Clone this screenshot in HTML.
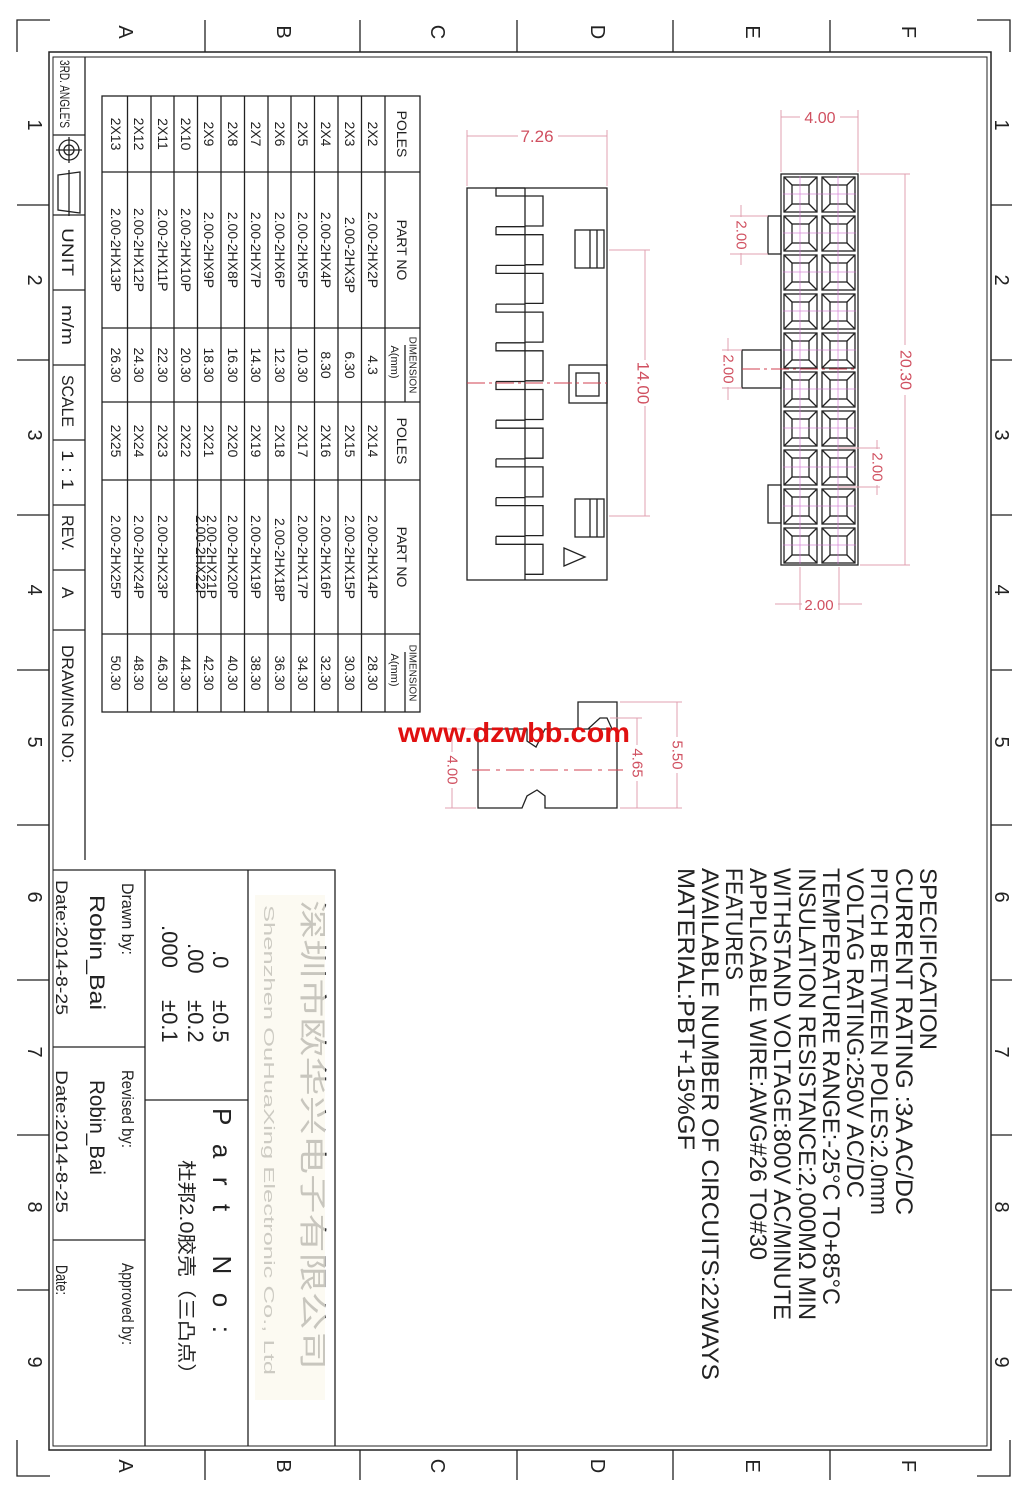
<!DOCTYPE html>
<html><head><meta charset="utf-8"><style>
html,body{margin:0;padding:0;background:#fff;}
svg{display:block;}
text{font-family:"Liberation Sans","Noto Sans CJK SC",sans-serif;fill:#222;}
.c{text-anchor:middle;dominant-baseline:central;}
.r{fill:#d05060;}
</style></head><body>
<svg width="1027" height="1499" viewBox="0 0 1027 1499" xmlns="http://www.w3.org/2000/svg">
<defs>
<g id="cell" stroke="#222" stroke-width="1.3" fill="none">
<rect x="0" y="0" width="33" height="35"/>
<rect x="8" y="8" width="17" height="19"/>
<path d="M0 0L8 8M33 0L25 8M0 35L8 27M33 35L25 27"/>
</g>
<g id="fin" stroke="#222" stroke-width="1.3" fill="none">
<path d="M496 0V8H543V38H525"/>
<path d="M496 0H525"/>
</g>
</defs>
<g stroke="#222" stroke-width="1.3" fill="none">
<path d="M17 52V20H50"/>
<path d="M1010 52V20H977"/>
<path d="M17 1440V1476H50"/>
<path d="M1010 1440V1476H977"/>
<rect x="49" y="52" width="942" height="1398" stroke-width="1.5"/>
<rect x="53" y="57" width="934" height="1389" stroke-width="1"/>
<path d="M205 20V52M360 20V52M517 20V52M673 20V52M830 20V52"/>
<path d="M205 1450V1480M360 1450V1480M517 1450V1480M673 1450V1480M830 1450V1480"/>
<path d="M17 205H49M17 360H49M17 515H49M17 670H49M17 825H49M17 980H49M17 1135H49M17 1290H49"/>
<path d="M991 205H1012M991 360H1012M991 515H1012M991 670H1012M991 825H1012M991 980H1012M991 1135H1012M991 1290H1012"/>
</g>
<g font-size="20">
<text class="c" transform="translate(125,32) rotate(90)">A</text>
<text class="c" transform="translate(283,32) rotate(90)">B</text>
<text class="c" transform="translate(437,32) rotate(90)">C</text>
<text class="c" transform="translate(597,32) rotate(90)">D</text>
<text class="c" transform="translate(752,32) rotate(90)">E</text>
<text class="c" transform="translate(908,32) rotate(90)">F</text>
<text class="c" transform="translate(125,1466) rotate(90)">A</text>
<text class="c" transform="translate(283,1466) rotate(90)">B</text>
<text class="c" transform="translate(437,1466) rotate(90)">C</text>
<text class="c" transform="translate(597,1466) rotate(90)">D</text>
<text class="c" transform="translate(752,1466) rotate(90)">E</text>
<text class="c" transform="translate(908,1466) rotate(90)">F</text>
<text class="c" transform="translate(34,125) rotate(90)">1</text>
<text class="c" transform="translate(34,280) rotate(90)">2</text>
<text class="c" transform="translate(34,435) rotate(90)">3</text>
<text class="c" transform="translate(34,590) rotate(90)">4</text>
<text class="c" transform="translate(34,742) rotate(90)">5</text>
<text class="c" transform="translate(34,897) rotate(90)">6</text>
<text class="c" transform="translate(34,1052) rotate(90)">7</text>
<text class="c" transform="translate(34,1207) rotate(90)">8</text>
<text class="c" transform="translate(34,1362) rotate(90)">9</text>
<text class="c" transform="translate(1001,125) rotate(90)">1</text>
<text class="c" transform="translate(1001,280) rotate(90)">2</text>
<text class="c" transform="translate(1001,435) rotate(90)">3</text>
<text class="c" transform="translate(1001,590) rotate(90)">4</text>
<text class="c" transform="translate(1001,742) rotate(90)">5</text>
<text class="c" transform="translate(1001,897) rotate(90)">6</text>
<text class="c" transform="translate(1001,1052) rotate(90)">7</text>
<text class="c" transform="translate(1001,1207) rotate(90)">8</text>
<text class="c" transform="translate(1001,1362) rotate(90)">9</text>
</g>
<g stroke="#222" stroke-width="1.3" fill="none">
<path d="M85 57V860"/>
<path d="M53 135H85M53 215H85M53 290H85M53 365H85M53 440H85M53 505H85M53 570H85M53 630H85"/>
<circle cx="69" cy="150" r="10"/><circle cx="69" cy="150" r="5"/>
<path d="M56 150H82M69 137V163"/>
<path d="M58 175L80 172V213L58 210Z M69 170V216"/>
</g>
<g font-size="14">
<text transform="translate(60,60) rotate(90)" textLength="68" lengthAdjust="spacingAndGlyphs">3RD. ANGLE'S</text>
<text transform="translate(62,228) rotate(90)" font-size="17" textLength="48" lengthAdjust="spacingAndGlyphs">UNIT</text>
<text transform="translate(62,305) rotate(90)" font-size="17" textLength="40" lengthAdjust="spacingAndGlyphs">m/m</text>
<text transform="translate(62,375) rotate(90)" font-size="17" textLength="52" lengthAdjust="spacingAndGlyphs">SCALE</text>
<text transform="translate(62,450) rotate(90)" font-size="17" textLength="40" lengthAdjust="spacingAndGlyphs">1 : 1</text>
<text transform="translate(62,515) rotate(90)" font-size="17" textLength="36" lengthAdjust="spacingAndGlyphs">REV.</text>
<text transform="translate(62,587) rotate(90)" font-size="17">A</text>
<text transform="translate(62,645) rotate(90)" font-size="17" textLength="118" lengthAdjust="spacingAndGlyphs">DRAWING NO:</text>
</g>
<g stroke="#222" stroke-width="1.3" fill="none">
<rect x="102" y="96" width="318" height="616"/>
<path d="M385 96V712M361.5 96V712M338 96V712M314.5 96V712M291 96V712M268 96V712M244.5 96V712M221 96V712M197.5 96V712M174 96V712M151 96V712M127.5 96V712"/>
<path d="M102 172H420M102 328H420M102 402H420M102 480H420M102 634H420"/>
<path d="M405 345V402M405 652V712"/>
</g>
<g font-size="14">
<text class="c" transform="translate(402,134) rotate(90)">POLES</text>
<text class="c" transform="translate(402,250) rotate(90)">PART NO</text>
<text class="c" transform="translate(412,365) rotate(90)" font-size="10">DIMENSION</text>
<text class="c" transform="translate(394,362) rotate(90)" font-size="11">A(mm)</text>
<text class="c" transform="translate(402,441) rotate(90)">POLES</text>
<text class="c" transform="translate(402,557) rotate(90)">PART NO</text>
<text class="c" transform="translate(412,673) rotate(90)" font-size="10">DIMENSION</text>
<text class="c" transform="translate(394,670) rotate(90)" font-size="11">A(mm)</text>

<text class="c" transform="translate(373,134) rotate(90)">2X2</text><text class="c" transform="translate(373,250) rotate(90)">2.00-2HX2P</text><text class="c" transform="translate(373,365) rotate(90)">4.3</text><text class="c" transform="translate(373,441) rotate(90)">2X14</text><text class="c" transform="translate(373,557) rotate(90)">2.00-2HX14P</text><text class="c" transform="translate(373,673) rotate(90)">28.30</text>
<text class="c" transform="translate(350,134) rotate(90)">2X3</text><text class="c" transform="translate(350,255) rotate(90)">2.00-2HX3P</text><text class="c" transform="translate(350,365) rotate(90)">6.30</text><text class="c" transform="translate(350,441) rotate(90)">2X15</text><text class="c" transform="translate(350,557) rotate(90)">2.00-2HX15P</text><text class="c" transform="translate(350,673) rotate(90)">30.30</text>
<text class="c" transform="translate(326,134) rotate(90)">2X4</text><text class="c" transform="translate(326,250) rotate(90)">2.00-2HX4P</text><text class="c" transform="translate(326,365) rotate(90)">8.30</text><text class="c" transform="translate(326,441) rotate(90)">2X16</text><text class="c" transform="translate(326,557) rotate(90)">2.00-2HX16P</text><text class="c" transform="translate(326,673) rotate(90)">32.30</text>
<text class="c" transform="translate(303,134) rotate(90)">2X5</text><text class="c" transform="translate(303,250) rotate(90)">2.00-2HX5P</text><text class="c" transform="translate(303,365) rotate(90)">10.30</text><text class="c" transform="translate(303,441) rotate(90)">2X17</text><text class="c" transform="translate(303,557) rotate(90)">2.00-2HX17P</text><text class="c" transform="translate(303,673) rotate(90)">34.30</text>
<text class="c" transform="translate(280,134) rotate(90)">2X6</text><text class="c" transform="translate(280,250) rotate(90)">2.00-2HX6P</text><text class="c" transform="translate(280,365) rotate(90)">12.30</text><text class="c" transform="translate(280,441) rotate(90)">2X18</text><text class="c" transform="translate(280,560) rotate(90)">2.00-2HX18P</text><text class="c" transform="translate(280,673) rotate(90)">36.30</text>
<text class="c" transform="translate(256,134) rotate(90)">2X7</text><text class="c" transform="translate(256,250) rotate(90)">2.00-2HX7P</text><text class="c" transform="translate(256,365) rotate(90)">14.30</text><text class="c" transform="translate(256,441) rotate(90)">2X19</text><text class="c" transform="translate(256,557) rotate(90)">2.00-2HX19P</text><text class="c" transform="translate(256,673) rotate(90)">38.30</text>
<text class="c" transform="translate(233,134) rotate(90)">2X8</text><text class="c" transform="translate(233,250) rotate(90)">2.00-2HX8P</text><text class="c" transform="translate(233,365) rotate(90)">16.30</text><text class="c" transform="translate(233,441) rotate(90)">2X20</text><text class="c" transform="translate(233,557) rotate(90)">2.00-2HX20P</text><text class="c" transform="translate(233,673) rotate(90)">40.30</text>
<text class="c" transform="translate(209,134) rotate(90)">2X9</text><text class="c" transform="translate(209,250) rotate(90)">2.00-2HX9P</text><text class="c" transform="translate(209,365) rotate(90)">18.30</text><text class="c" transform="translate(209,441) rotate(90)">2X21</text><text class="c" transform="translate(212,557) rotate(90)">2.00-2HX21P</text><text class="c" transform="translate(201,557) rotate(90)">2.00-2HX22P</text><text class="c" transform="translate(209,673) rotate(90)">42.30</text>
<text class="c" transform="translate(186,134) rotate(90)">2X10</text><text class="c" transform="translate(186,250) rotate(90)">2.00-2HX10P</text><text class="c" transform="translate(186,365) rotate(90)">20.30</text><text class="c" transform="translate(186,441) rotate(90)">2X22</text><text class="c" transform="translate(186,673) rotate(90)">44.30</text>
<text class="c" transform="translate(163,134) rotate(90)">2X11</text><text class="c" transform="translate(163,250) rotate(90)">2.00-2HX11P</text><text class="c" transform="translate(163,365) rotate(90)">22.30</text><text class="c" transform="translate(163,441) rotate(90)">2X23</text><text class="c" transform="translate(163,557) rotate(90)">2.00-2HX23P</text><text class="c" transform="translate(163,673) rotate(90)">46.30</text>
<text class="c" transform="translate(139,134) rotate(90)">2X12</text><text class="c" transform="translate(139,250) rotate(90)">2.00-2HX12P</text><text class="c" transform="translate(139,365) rotate(90)">24.30</text><text class="c" transform="translate(139,441) rotate(90)">2X24</text><text class="c" transform="translate(139,557) rotate(90)">2.00-2HX24P</text><text class="c" transform="translate(139,673) rotate(90)">48.30</text>
<text class="c" transform="translate(116,134) rotate(90)">2X13</text><text class="c" transform="translate(116,250) rotate(90)">2.00-2HX13P</text><text class="c" transform="translate(116,365) rotate(90)">26.30</text><text class="c" transform="translate(116,441) rotate(90)">2X25</text><text class="c" transform="translate(116,557) rotate(90)">2.00-2HX25P</text><text class="c" transform="translate(116,673) rotate(90)">50.30</text>
</g>
<g stroke="#222" stroke-width="1.3" fill="none">
<rect x="467" y="188" width="140" height="392"/>
<path d="M525 188V580"/>
<use href="#fin" y="188"/><use href="#fin" y="226.7"/><use href="#fin" y="265.4"/><use href="#fin" y="304.1"/><use href="#fin" y="342.8"/>
<use href="#fin" y="381.5"/><use href="#fin" y="420.2"/><use href="#fin" y="458.9"/><use href="#fin" y="497.6"/><use href="#fin" y="536.3"/>
<rect x="575" y="230" width="29" height="38"/><path d="M590 230V268M597 230V268"/>
<rect x="575" y="499" width="29" height="38"/><path d="M590 499V537M597 499V537"/>
<rect x="569" y="365" width="38" height="38"/><rect x="576" y="373" width="23" height="23"/>
<path d="M564 548L585 557L564 566Z"/>
</g>
<g stroke="#d04050" stroke-width="1" fill="none">
<path d="M467 383H607" stroke-dasharray="18 4 3 4"/>
</g>
<g stroke="#e0a0b0" stroke-width="1" fill="none">
<path d="M467 130V186M607 130V186M467 136H607"/>
<path d="M609 250H650M609 516H650M645 250V516"/>
</g>
<rect x="518" y="126" width="40" height="20" fill="#fff"/>
<text x="537" y="142" class="r" font-size="17" text-anchor="middle">7.26</text>
<rect x="635" y="360" width="20" height="46" fill="#fff"/>
<text class="c r" transform="translate(643,383) rotate(90)" font-size="17">14.00</text>
<g stroke="#222" stroke-width="1.3" fill="none">
<rect x="781" y="174" width="77" height="391"/>
<rect x="768" y="216" width="13" height="38"/>
<rect x="742" y="350" width="39" height="38"/>
<rect x="768" y="485" width="13" height="38"/>
</g>
<g>
<use href="#cell" x="784" y="177"/><use href="#cell" x="822" y="177"/>
<use href="#cell" x="784" y="216"/><use href="#cell" x="822" y="216"/>
<use href="#cell" x="784" y="255"/><use href="#cell" x="822" y="255"/>
<use href="#cell" x="784" y="294"/><use href="#cell" x="822" y="294"/>
<use href="#cell" x="784" y="333"/><use href="#cell" x="822" y="333"/>
<use href="#cell" x="784" y="372"/><use href="#cell" x="822" y="372"/>
<use href="#cell" x="784" y="411"/><use href="#cell" x="822" y="411"/>
<use href="#cell" x="784" y="450"/><use href="#cell" x="822" y="450"/>
<use href="#cell" x="784" y="489"/><use href="#cell" x="822" y="489"/>
<use href="#cell" x="784" y="528"/><use href="#cell" x="822" y="528"/>
</g>
<g stroke="#d070d0" stroke-width="0.8" fill="none" opacity="0.8">
<path d="M800 176V564M838 176V564"/>
<path d="M783 194H856M783 233H856M783 272H856M783 311H856M783 350H856M783 389H856M783 428H856M783 467H856M783 506H856M783 545H856"/>
</g>
<path d="M742 369H858" stroke="#d04050" stroke-dasharray="18 4 3 4" fill="none"/>
<g stroke="#e0a0b0" stroke-width="1" fill="none">
<path d="M781 110V172M858 110V172M781 117H858"/>
<path d="M860 174H910M860 565H910M905 174V565"/>
<path d="M741 205V265M730 216H768M730 254H768"/>
<path d="M728 338V400M722 350H742M722 388H742"/>
<path d="M877 440V495M838 448H880M838 487H880"/>
<path d="M800 567V610M839 567V610M775 604H862"/>
</g>
<rect x="800" y="108" width="40" height="18" fill="#fff"/>
<text x="820" y="123" class="r" font-size="16" text-anchor="middle">4.00</text>
<rect x="897" y="345" width="18" height="50" fill="#fff"/>
<text class="c r" transform="translate(905,370) rotate(90)" font-size="16">20.30</text>
<rect x="733" y="217" width="16" height="36" fill="#fff"/>
<text class="c r" transform="translate(741,235) rotate(90)" font-size="15">2.00</text>
<rect x="720" y="351" width="16" height="36" fill="#fff"/>
<text class="c r" transform="translate(728,369) rotate(90)" font-size="15">2.00</text>
<rect x="869" y="449" width="16" height="36" fill="#fff"/>
<text class="c r" transform="translate(877,467) rotate(90)" font-size="15">2.00</text>
<rect x="802" y="596" width="36" height="16" fill="#fff"/>
<text x="819" y="610" class="r" font-size="15" text-anchor="middle">2.00</text>
<g stroke="#222" stroke-width="1.3" fill="none">
<path d="M478 729V808H522L527 796L537 790L545 796V808H617V702H578V729H612L607 718H600L588 729H545L536 747L527 741V729H478"/>
</g>
<path d="M472 770H623" stroke="#d04050" stroke-dasharray="18 6 4 6" fill="none"/>
<g stroke="#e0a0b0" stroke-width="1" fill="none">
<path d="M445 729H476M445 808H476M452 729V808"/>
<path d="M610 718H642M620 808H682M637 718V808"/>
<path d="M620 702H682M677 702V808"/>
</g>
<rect x="444" y="752" width="16" height="36" fill="#fff"/>
<text class="c r" transform="translate(452,770) rotate(90)" font-size="15">4.00</text>
<rect x="629" y="745" width="16" height="36" fill="#fff"/>
<text class="c r" transform="translate(637,763) rotate(90)" font-size="15">4.65</text>
<rect x="669" y="737" width="16" height="36" fill="#fff"/>
<text class="c r" transform="translate(677,755) rotate(90)" font-size="15">5.50</text>
<text x="398" y="742" font-family="Liberation Serif" font-weight="bold" font-size="28" style="fill:#e01010" textLength="232" lengthAdjust="spacingAndGlyphs">www.dzwbb.com</text>
<g font-size="24">
<text transform="translate(920,868) rotate(90)" textLength="182" lengthAdjust="spacingAndGlyphs">SPECIFICATION</text>
<text transform="translate(896,868) rotate(90)" textLength="347" lengthAdjust="spacingAndGlyphs">CURRENT RATING :3A AC/DC</text>
<text transform="translate(871,868) rotate(90)" textLength="347" lengthAdjust="spacingAndGlyphs">PITCH BETWEEN POLES:2.0mm</text>
<text transform="translate(847,868) rotate(90)" textLength="330" lengthAdjust="spacingAndGlyphs">VOLTAG RATING:250V AC/DC</text>
<text transform="translate(823,868) rotate(90)" textLength="437" lengthAdjust="spacingAndGlyphs">TEMPERATURE RANGE:-25°C TO+85°C</text>
<text transform="translate(799,868) rotate(90)" textLength="452" lengthAdjust="spacingAndGlyphs">INSULATION RESISTANCE:2,000MΩ MIN</text>
<text transform="translate(774,868) rotate(90)" textLength="452" lengthAdjust="spacingAndGlyphs">WITHSTAND VOLTAGE:800V AC/MINUTE</text>
<text transform="translate(750,868) rotate(90)" textLength="392" lengthAdjust="spacingAndGlyphs">APPLICABLE WIRE:AWG#26 TO#30</text>
<text transform="translate(726,868) rotate(90)" textLength="112" lengthAdjust="spacingAndGlyphs">FEATURES</text>
<text transform="translate(702,868) rotate(90)" textLength="512" lengthAdjust="spacingAndGlyphs">AVAILABLE NUMBER OF CIRCUITS:22WAYS</text>
<text transform="translate(678,868) rotate(90)" textLength="282" lengthAdjust="spacingAndGlyphs">MATERIAL:PBT+15%GF</text>
</g>
<g stroke="#222" stroke-width="1.3" fill="none">
<path d="M53 870H335V1446"/>
<path d="M145 870V1446M248 870V1446"/>
<path d="M53 1047H145M53 1240H145M145 1100H248"/>
</g>
<text transform="translate(303,900) rotate(90)" font-size="28" textLength="470" lengthAdjust="spacingAndGlyphs" style="fill:#333">深圳市欧华兴电子有限公司</text>
<text transform="translate(264,905) rotate(90)" font-size="15" textLength="470" lengthAdjust="spacingAndGlyphs" style="fill:#444">Shenzhen OuHuaXing Electronic Co., Ltd</text>
<rect x="255" y="895" width="70" height="505" fill="#fbf8ee" opacity="0.75"/>
<g font-size="22">
<text transform="translate(213,950) rotate(90)">.0</text>
<text transform="translate(213,1000) rotate(90)">±0.5</text>
<text transform="translate(188,943) rotate(90)">.00</text>
<text transform="translate(188,1000) rotate(90)">±0.2</text>
<text transform="translate(162,925) rotate(90)">.000</text>
<text transform="translate(162,1000) rotate(90)">±0.1</text>
<text transform="translate(213,1108) rotate(90)" font-size="26" textLength="225" lengthAdjust="spacing">Part No:</text>
<text transform="translate(180,1160) rotate(90)" font-size="19" textLength="225" lengthAdjust="spacingAndGlyphs">杜邦2.0胶壳（三凸点）</text>
</g>
<g font-size="17">
<text transform="translate(122,883) rotate(90)" textLength="72" lengthAdjust="spacingAndGlyphs">Drawn by:</text>
<text transform="translate(90,895) rotate(90)" font-size="21" textLength="115" lengthAdjust="spacingAndGlyphs">Robin_Bai</text>
<text transform="translate(56,880) rotate(90)" textLength="135" lengthAdjust="spacingAndGlyphs">Date:2014-8-25</text>
<text transform="translate(122,1070) rotate(90)" textLength="78" lengthAdjust="spacingAndGlyphs">Revised by:</text>
<text transform="translate(90,1080) rotate(90)" font-size="21" textLength="95" lengthAdjust="spacingAndGlyphs">Robin_Bai</text>
<text transform="translate(56,1070) rotate(90)" textLength="143" lengthAdjust="spacingAndGlyphs">Date:2014-8-25</text>
<text transform="translate(122,1263) rotate(90)" textLength="82" lengthAdjust="spacingAndGlyphs">Approved by:</text>
<text transform="translate(56,1265) rotate(90)" textLength="30" lengthAdjust="spacingAndGlyphs">Date:</text>
</g>
</svg>
</body></html>
